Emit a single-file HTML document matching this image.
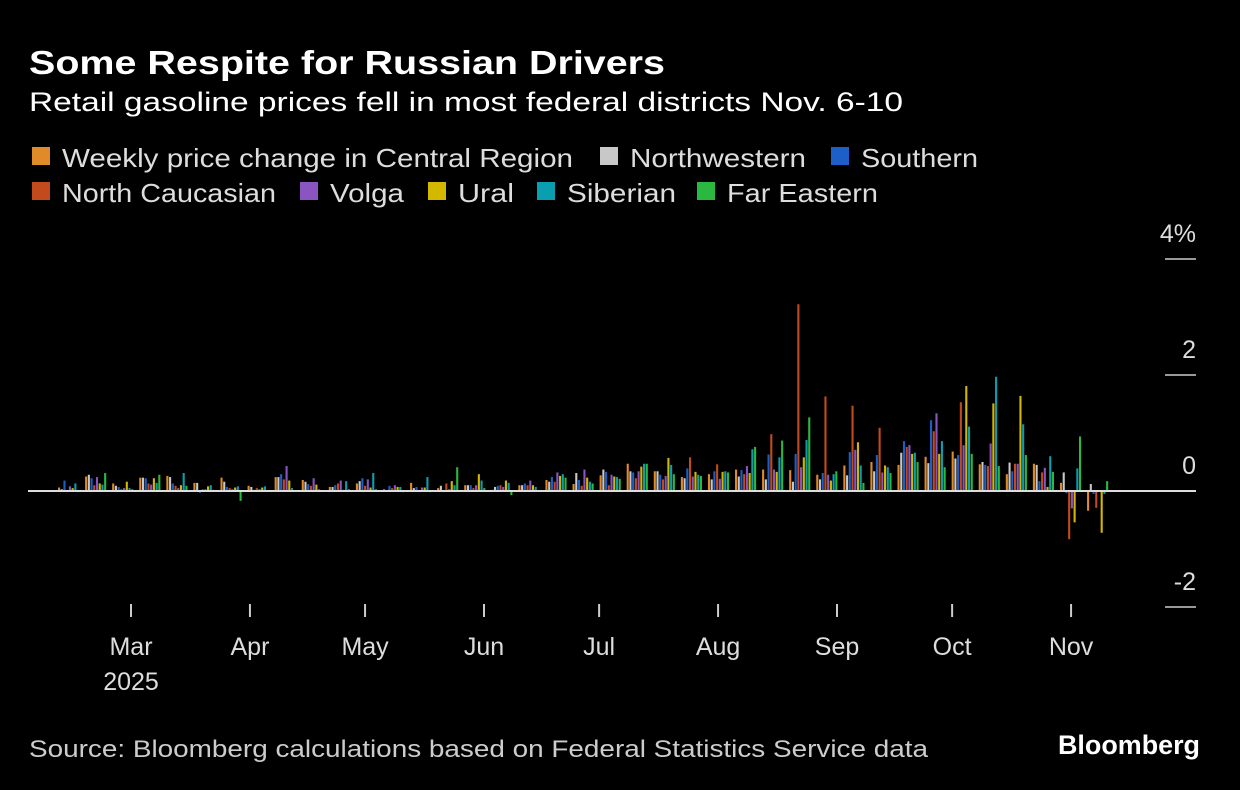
<!DOCTYPE html>
<html><head><meta charset="utf-8"><style>
html,body{margin:0;padding:0;background:#000;}
svg{display:block;font-family:"Liberation Sans",sans-serif;}
</style></head><body>
<svg id="chart" width="1240" height="790" viewBox="0 0 1240 790">
<rect width="1240" height="790" fill="#000"/>
<text x="29" y="74" fill="#fff" font-size="33" font-weight="bold" textLength="636" lengthAdjust="spacingAndGlyphs">Some Respite for Russian Drivers</text>
<text x="29" y="111" fill="#fff" font-size="27" textLength="874" lengthAdjust="spacingAndGlyphs">Retail gasoline prices fell in most federal districts Nov. 6-10</text>
<g id="legend"></g>
<g id="axes"></g>
<g id="bars"></g>
<text x="29" y="757" fill="#ccc" font-size="24" textLength="899" lengthAdjust="spacingAndGlyphs">Source: Bloomberg calculations based on Federal Statistics Service data</text>
<text x="1200" y="754" fill="#fff" font-size="27" font-weight="bold" text-anchor="end" textLength="142" lengthAdjust="spacingAndGlyphs">Bloomberg</text>
</svg>
<script>
const seriesNames = ["Weekly price change in Central Region","Northwestern","Southern","North Caucasian","Volga","Ural","Siberian","Far Eastern"];
const seriesColors = ["#e08a2a","#c8c8c8","#1d5fc8","#c24a1c","#8a55c0","#d4b800","#0a9fb0","#2ab840"];
const central = [0.06,0.25,0.13,0.23,0.26,0.14,0.23,0.09,0.24,0.19,0.07,0.13,0.03,0.14,0.05,0.10,0.02,0.10,0.19,0.12,0.27,0.47,0.34,0.24,0.29,0.37,0.37,0.36,0.28,0.44,0.50,0.45,0.59,0.68,0.46,0.29,0.47,0.14,-0.34];
const northwestern = [0.03,0.28,0.09,0.23,0.24,0.14,0.16,0.07,0.24,0.16,0.07,0.17,-0.01,0.05,0.09,0.10,0.07,0.10,0.16,0.31,0.37,0.34,0.34,0.22,0.20,0.25,0.20,0.16,0.20,0.27,0.34,0.66,0.48,0.56,0.50,0.49,0.45,0.32,0.12];
const southern = [0.18,0.22,0.07,0.22,0.13,-0.03,0.07,0.02,0.29,0.12,0.10,0.22,0.09,0.07,-0.02,0.10,0.09,0.13,0.24,0.19,0.33,0.32,0.28,0.39,0.34,0.36,0.63,0.64,0.31,0.67,0.62,0.86,1.22,0.62,0.45,0.34,0.17,-0.04,-0.05];
const northCaucasian = [-0.02,0.10,0.03,0.13,0.09,0.03,0.05,0.05,0.20,0.09,0.13,0.09,0.05,-0.02,0.13,0.05,0.10,0.10,0.16,0.09,0.10,0.22,0.20,0.58,0.46,0.29,0.98,3.22,1.63,1.47,1.09,0.76,1.03,1.53,0.43,0.47,0.32,-0.83,-0.29];
const volga = [0.08,0.24,0.05,0.11,0.05,0.03,0.03,0.03,0.43,0.22,0.18,0.20,0.10,0.06,0.03,0.10,0.07,0.18,0.32,0.37,0.28,0.34,0.26,0.25,0.21,0.43,0.37,0.41,0.28,0.71,0.32,0.79,1.34,0.79,0.82,0.47,0.40,-0.30,0.00];
const ural = [0.05,0.13,0.16,0.22,0.10,0.08,0.06,0.06,0.18,0.11,0.02,0.06,0.07,0.06,0.17,0.29,0.18,0.10,0.26,0.23,0.25,0.42,0.57,0.33,0.33,0.31,0.33,0.58,0.18,0.84,0.44,0.64,0.64,1.81,1.51,1.64,0.07,-0.54,-0.72];
const siberian = [0.13,0.11,0.05,0.14,0.31,0.10,0.08,0.08,0.05,0.03,0.17,0.31,0.07,0.24,0.10,0.18,0.14,0.07,0.29,0.16,0.24,0.47,0.45,0.28,0.34,0.72,0.58,0.88,0.29,0.44,0.41,0.66,0.86,1.11,1.97,1.15,0.60,0.39,-0.05];
const farEastern = [-0.02,0.31,0.03,0.28,0.09,0.02,-0.17,-0.01,-0.01,-0.01,0.03,0.03,-0.02,-0.02,0.41,0.05,-0.07,-0.01,0.23,0.13,0.21,0.47,0.29,0.26,0.32,0.76,0.87,1.27,0.34,0.14,0.31,0.50,0.41,0.64,0.43,0.62,0.33,0.94,0.17];
const allSeries = [central,northwestern,southern,northCaucasian,volga,ural,siberian,farEastern];
const monthLabels = ["Mar","Apr","May","Jun","Jul","Aug","Sep","Oct","Nov"];
const monthDayOffsets = [0,31,61,92,122,153,184,214,245]; // days from Mar 1
const yTicks = [4,2,0,-2];
const yTickLabels = ["4%","2","0","-2"];

const NS="http://www.w3.org/2000/svg";
function mk(tag,attrs,parent){const e=document.createElementNS(NS,tag);for(const k in attrs)e.setAttribute(k,attrs[k]);parent.appendChild(e);return e;}
const yScale = v => 491 - v*58;
const dayScale = d => 131 + d*3.837;
const groupX = i => 58 + i*27.08;

// legend
const legend=document.getElementById('legend');
const legPos=[[32,158],[600,158],[831,158],[32,193],[300,193],[428,193],[537,193],[697,193]];
const legW=[511,176,117,214,74,56,109,151];
seriesNames.forEach((n,i)=>{
  const g=mk('g',{},legend);
  
  
  mk('rect',{x:legPos[i][0],y:legPos[i][1]-11,width:18,height:18,fill:seriesColors[i]},g);
  const t=mk('text',{x:legPos[i][0]+30,y:legPos[i][1]+9,fill:'#ddd','font-size':26,textLength:legW[i],lengthAdjust:'spacingAndGlyphs'},g);
  t.textContent=n;
});

// axes
const axes=document.getElementById('axes');
yTicks.forEach((v,i)=>{
  const l=mk('line',{x1:1165,x2:1196,y1:yScale(v),y2:yScale(v),stroke:'#ccc','stroke-width':1.5},axes);
  
  
  const t=mk('text',{x:1196,y:yScale(v)-17,fill:'#ddd','font-size':25,'text-anchor':'end'},axes);
  
  
  t.textContent=yTickLabels[i];
});
monthLabels.forEach((m,i)=>{
  const x=dayScale(monthDayOffsets[i]);
  const l=mk('line',{x1:x,x2:x,y1:604,y2:617,stroke:'#ccc','stroke-width':2},axes);
  
  
  const t=mk('text',{x:x,y:655,fill:'#ddd','font-size':25,'text-anchor':'middle'},axes);
  
  
  t.textContent=m;
});
const yr=mk('text',{x:dayScale(monthDayOffsets[0]),y:690,fill:'#ddd','font-size':25,'text-anchor':'middle'},axes);


yr.textContent='2025';

// bars
const bars=document.getElementById('bars');
allSeries.forEach((arr,s)=>{
  arr.forEach((v,i)=>{
    const x=groupX(i)+s*2.72;
    const y0=yScale(0), y1=yScale(v);
    const r=mk('rect',{x:x,y:Math.min(y0,y1),width:2.1,height:Math.max(Math.abs(y1-y0),0.5),fill:seriesColors[s]},bars);
    
    
  });
});
const zl=mk('line',{x1:28,x2:1196,y1:yScale(0),y2:yScale(0),stroke:'#ddd','stroke-width':2},bars);


</script>
</body></html>
